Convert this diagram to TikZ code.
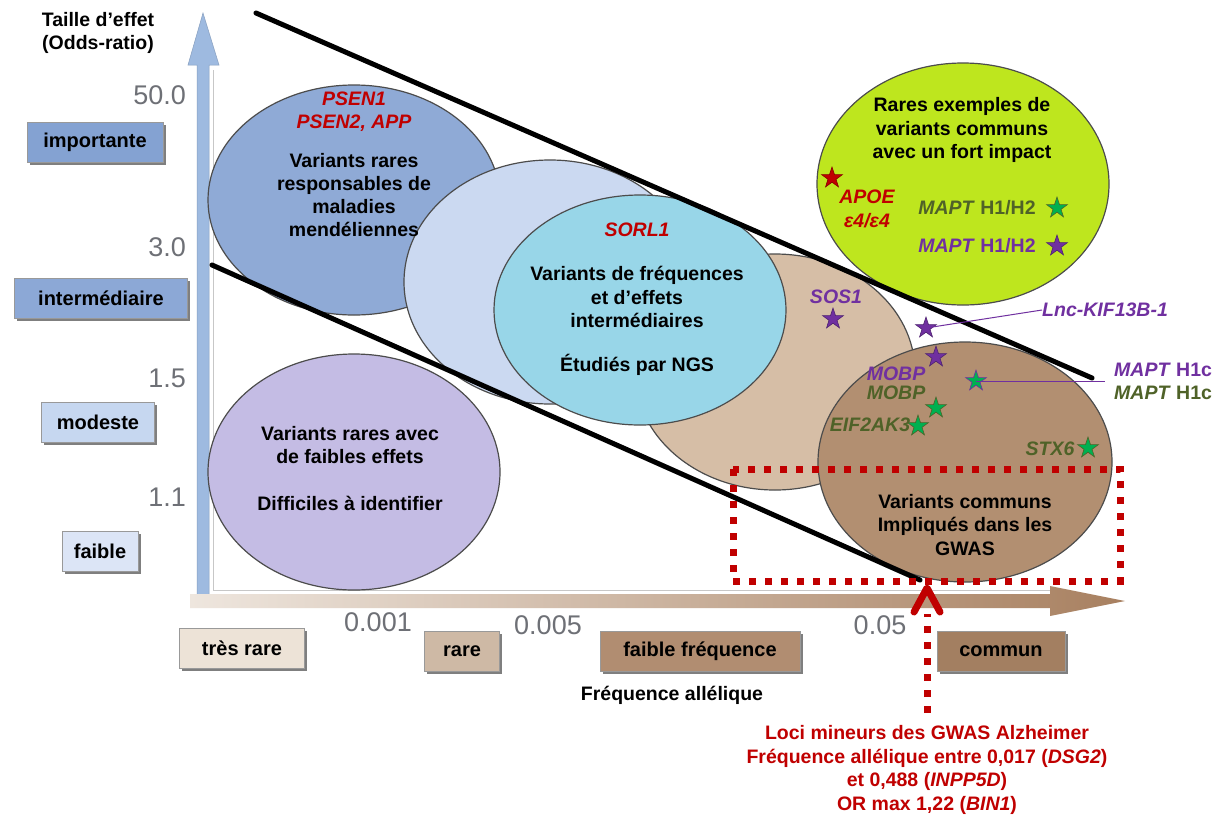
\documentclass[tikz,border=0pt]{standalone}
\usepackage{fontspec}
\setmainfont{Liberation Sans}
\usetikzlibrary{shapes.geometric,shadows,positioning}

\definecolor{mendelblue}{RGB}{143,170,214}
\definecolor{paleblue}{RGB}{203,217,241}
\definecolor{cyanblob}{RGB}{152,214,232}
\definecolor{tanblob}{RGB}{214,190,166}
\definecolor{gwasbrown}{RGB}{178,143,113}
\definecolor{limeblob}{RGB}{190,230,30}
\definecolor{lavblob}{RGB}{196,188,228}
\definecolor{genered}{RGB}{192,0,0}
\definecolor{genepurple}{RGB}{112,48,160}
\definecolor{geneolive}{RGB}{79,98,40}
\definecolor{stargreen}{RGB}{0,176,80}
\definecolor{tickgray}{RGB}{110,112,118}
\definecolor{axisblue}{RGB}{158,186,224}
\definecolor{axisbrownA}{RGB}{238,230,222}
\definecolor{axisbrownB}{RGB}{168,128,96}

\begin{document}
\begin{tikzpicture}[x=1pt, y=-1pt,
  blob/.style={draw=black!70, line width=1.2pt},
  slash/.style={line width=5pt, line cap=round, black},
  lbl/.style={font=\fontsize{19.5}{23.3}\selectfont\bfseries, align=center, inner sep=0pt},
  gene/.style={lbl, font=\fontsize{19.5}{23.3}\selectfont\bfseries\itshape},
  tick/.style={font=\fontsize{27}{27}\selectfont, text=tickgray, inner sep=0pt},
  catbox/.style={draw=black!40, line width=0.8pt, minimum height=40pt, inner sep=0pt,
    font=\fontsize{20}{22}\selectfont\bfseries,
    drop shadow={shadow xshift=2.5pt, shadow yshift=-3pt, fill=black, opacity=0.5}},
  starmark/.style={star, star points=5, star point ratio=2.6, minimum size=22pt, inner sep=0pt, line width=0.6pt},
  purplestar/.style={starmark, fill=genepurple, draw=genepurple!70!black},
  greenstar/.style={starmark, fill=stargreen, draw=geneolive},
  leader/.style={genepurple, line width=1pt},
  gwasdots/.style={genered, line width=7pt, dash pattern=on 7pt off 9pt},
]
\useasboundingbox (0,0) rectangle (1220,814);
\fill[white] (0,0) rectangle (1220,814);

% Axes
\draw[black!22, line width=1pt] (213,70) -- (213,590) -- (1050,590);
\fill[axisblue, draw=axisblue!85!black, line width=0.5pt]
  (197,604) -- (197,65) -- (188,65) -- (203,13) -- (219,65) -- (209,65) -- (209,604) -- cycle;
\shade[left color=axisbrownA, right color=axisbrownB]
  (190,594) -- (1050,594) -- (1050,586) -- (1125,601) -- (1050,616) -- (1050,608) -- (190,608) -- cycle;

\node[lbl] (ytitle) at (98,33) {Taille d’effet\\(Odds-ratio)};

% Effect size ticks and classes
\node[tick, anchor=east] (t50) at (186,95) {50.0};
\node[tick, anchor=east] (t30) at (186,247) {3.0};
\node[tick, anchor=east] (t15) at (186,378) {1.5};
\node[tick, anchor=east] (t11) at (186,497) {1.1};
\node[catbox, fill={rgb,255:red,132;green,162;blue,210}, minimum width=136pt] (bimp) at (95,142) {importante};
\node[catbox, fill={rgb,255:red,140;green,168;blue,214}, minimum width=173pt] (binter) at (101,298) {intermédiaire};
\node[catbox, fill={rgb,255:red,198;green,215;blue,240}, minimum width=113pt] (bmod) at (98,422) {modeste};
\node[catbox, fill={rgb,255:red,220;green,229;blue,246}, minimum width=76pt] (bfaib) at (100,551) {faible};

% Frequency ticks and classes
\node[tick] (f001) at (378,622) {0.001};
\node[tick] (f005) at (548,625) {0.005};
\node[tick] (f05) at (880,625) {0.05};
\node[catbox, fill={rgb,255:red,237;green,227;blue,215}, minimum width=125pt] (btres) at (242,648) {très rare};
\node[catbox, fill={rgb,255:red,206;green,185;blue,165}, minimum width=75pt] (brare) at (462,651) {rare};
\node[catbox, fill={rgb,255:red,177;green,141;blue,113}, minimum width=200pt] (bfreq) at (700,651) {faible fréquence};
\node[catbox, fill={rgb,255:red,163;green,127;blue,97}, minimum width=128pt] (bcomm) at (1001,651) {commun};
\node[lbl] (xtitle) at (672,695) {Fréquence allélique};

% Blobs
\draw[blob, fill=mendelblue] (354,200) ellipse [x radius=146, y radius=115];
\draw[blob, fill=paleblue] (550,282) ellipse [x radius=146, y radius=122];
\draw[blob, fill=tanblob] (775,372) ellipse [x radius=140, y radius=118];
\draw[blob, fill=cyanblob] (640,310) ellipse [x radius=146, y radius=115];
\draw[blob, fill=gwasbrown] (965,462) ellipse [x radius=147, y radius=120];
\draw[blob, fill=limeblob] (963,184) ellipse [x radius=146, y radius=121];
\draw[blob, fill=lavblob] (354,472) ellipse [x radius=146, y radius=118];

% Diagonal limits
\draw[slash] (256,13) -- (1092,378);
\draw[slash] (212,265) -- (920,580);

% Texts of the blobs
\node[gene, text=genered] (psen) at (354,112) {PSEN1\\PSEN2, APP};
\node[lbl] (mendel) at (354,195) {Variants rares\\responsables de\\maladies\\mendéliennes};
\node[gene, text=genered] (sorl) at (637,230) {SORL1};
\node[lbl] (interm) at (637,297) {Variants de fréquences\\et d’effets\\intermédiaires};
\node[lbl] (ngs) at (637,365) {Étudiés par NGS};
\node[lbl] (faibeff) at (350,445) {Variants rares avec\\de faibles effets};
\node[lbl] (diffic) at (350,503) {Difficiles à identifier};
\node[lbl] (rares) at (962,130) {Rares exemples de\\variants communs\\avec un fort impact};
\node[lbl] (gwas) at (965,525) {Variants communs\\Impliqués dans les\\GWAS};

% Genes with strong impact
\node[starmark, fill=genered, draw=genered!70!black] (sapoe) at (832,178) {};
\node[gene, text=genered] (apoe) at (867,209) {APOE\\ε4/ε4};
\node[lbl, text=geneolive] (maptg) at (977,208) {\textit{MAPT} H1/H2};
\node[lbl, text=genepurple] (maptp) at (977,246) {\textit{MAPT} H1/H2};
\node[greenstar] (smaptg) at (1057,208) {};
\node[purplestar] (smaptp) at (1057,246) {};

% Genes of the GWAS
\node[gene, text=genepurple] (sos) at (836,297) {SOS1};
\node[purplestar] (ssos) at (833,319) {};
\node[purplestar] (slnc) at (926,328) {};
\node[gene, text=genepurple, anchor=west] (lnc) at (1042,310) {Lnc-KIF13B-1};
\node[purplestar] (smobp) at (936,357) {};
\node[gene, text=genepurple] (mobpp) at (896,374) {MOBP};
\node[gene, text=geneolive] (mobpg) at (896,393) {MOBP};
\node[greenstar] (smobpg) at (936,408) {};
\node[greenstar] (seif) at (918,426) {};
\node[gene, text=geneolive] (eif) at (870,425) {EIF2AK3};
\node[greenstar, draw=genepurple] (smaptc) at (976,381) {};
\node[lbl, text=genepurple, anchor=west] (maptcp) at (1114,370) {\textit{MAPT} H1c};
\node[lbl, text=geneolive, anchor=west] (maptcg) at (1114,393) {\textit{MAPT} H1c};
\node[gene, text=geneolive] (stx) at (1050,449) {STX6};
\node[greenstar] (sstx) at (1088,448) {};
\draw[leader] (slnc.center) -- (lnc.west);
\draw[leader] (smaptc.center) -- (1105,381);

% Minor GWAS loci
\draw[gwasdots] (733,469) rectangle (1120,581);
\coordinate (lociarrow) at (927,713);
\coordinate (locitip) at (927,588);
\draw[gwasdots] (lociarrow) -- (927,614);
\draw[genered, line width=7pt, line cap=round, line join=round] (914,612) -- (locitip) -- (940,612);
\node[lbl, text=genered, font=\fontsize{19.5}{23.5}\selectfont\bfseries] (loci) at (927,770)
  {Loci mineurs des GWAS Alzheimer\\Fréquence allélique entre 0,017 (\textit{DSG2})\\et 0,488 (\textit{INPP5D})\\OR max 1,22 (\textit{BIN1})};
\end{tikzpicture}
\end{document}
